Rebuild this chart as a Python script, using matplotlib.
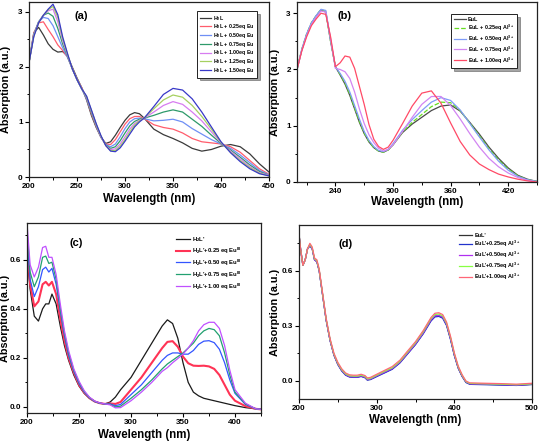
import matplotlib
matplotlib.use("Agg")
import matplotlib.pyplot as plt
from matplotlib.ticker import MultipleLocator

plt.rcParams["font.family"] = ["Liberation Sans", "DejaVu Sans"]
plt.rcParams["font.weight"] = "bold"
plt.rcParams["mathtext.fontset"] = "custom"
plt.rcParams["mathtext.bf"] = "Liberation Sans:bold"
plt.rcParams["mathtext.rm"] = "Liberation Sans:bold"
plt.rcParams["mathtext.default"] = "bf"

W, H = 539, 443

# ---------------- panel (a): H2L + Eu ----------------
wl_a = [200, 205, 210, 215, 220, 225, 230, 235, 240, 245, 250, 255, 260, 265, 270,
        275, 280, 285, 290, 295, 300, 305, 310, 315, 320, 330, 340, 350, 360, 370,
        380, 390, 400, 410, 420, 430, 440, 450]
a_0 = [2.08, 2.62, 2.72, 2.58, 2.42, 2.32, 2.27, 2.28, 2.20, 2.00, 1.80, 1.62, 1.40, 1.12, 0.90,
       0.72, 0.61, 0.64, 0.76, 0.90, 1.03, 1.13, 1.17, 1.15, 1.07, 0.87, 0.77, 0.70, 0.62, 0.52,
       0.47, 0.50, 0.56, 0.59, 0.55, 0.42, 0.24, 0.09]
a_25 = [2.08, 2.62, 2.80, 2.82, 2.68, 2.55, 2.40, 2.30, 2.18, 1.98, 1.78, 1.62, 1.42, 1.15, 0.92,
        0.72, 0.60, 0.59, 0.68, 0.82, 0.96, 1.06, 1.10, 1.10, 1.06, 0.95, 0.90, 0.87, 0.80, 0.70,
        0.64, 0.62, 0.60, 0.55, 0.45, 0.30, 0.15, 0.05]
a_50 = [2.08, 2.60, 2.82, 2.90, 2.88, 2.75, 2.55, 2.35, 2.18, 1.97, 1.77, 1.60, 1.42, 1.17, 0.93,
        0.72, 0.59, 0.55, 0.60, 0.73, 0.88, 1.00, 1.06, 1.07, 1.06, 1.02, 1.03, 1.05, 1.00, 0.88,
        0.78, 0.68, 0.60, 0.52, 0.40, 0.26, 0.12, 0.04]
a_75 = [2.08, 2.58, 2.82, 2.94, 2.98, 2.92, 2.70, 2.42, 2.20, 1.97, 1.77, 1.60, 1.44, 1.18, 0.94,
        0.73, 0.58, 0.52, 0.55, 0.66, 0.80, 0.93, 1.01, 1.05, 1.07, 1.12, 1.18, 1.22, 1.18, 1.05,
        0.92, 0.76, 0.61, 0.49, 0.36, 0.22, 0.10, 0.03]
a_100 = [2.08, 2.57, 2.81, 2.94, 3.02, 3.05, 2.82, 2.48, 2.22, 1.97, 1.77, 1.60, 1.45, 1.20, 0.95,
         0.73, 0.57, 0.50, 0.51, 0.60, 0.73, 0.87, 0.97, 1.03, 1.07, 1.18, 1.30, 1.37, 1.32, 1.18,
         1.02, 0.82, 0.62, 0.47, 0.33, 0.19, 0.08, 0.03]
a_125 = [2.08, 2.56, 2.80, 2.94, 3.04, 3.10, 2.90, 2.52, 2.24, 1.97, 1.77, 1.60, 1.46, 1.21, 0.96,
         0.74, 0.57, 0.48, 0.48, 0.56, 0.68, 0.82, 0.94, 1.02, 1.07, 1.24, 1.40, 1.49, 1.45, 1.30,
         1.10, 0.87, 0.63, 0.45, 0.30, 0.17, 0.07, 0.02]
a_150 = [2.08, 2.55, 2.80, 2.94, 3.05, 3.14, 2.95, 2.55, 2.25, 1.97, 1.77, 1.60, 1.47, 1.22, 0.97,
         0.75, 0.57, 0.47, 0.46, 0.53, 0.65, 0.78, 0.91, 1.00, 1.07, 1.28, 1.50, 1.61, 1.58, 1.42,
         1.18, 0.91, 0.64, 0.44, 0.28, 0.15, 0.06, 0.02]
labels_a = ["H$_2$L", "H$_2$L + 0.25eq Eu", "H$_2$L + 0.50eq Eu", "H$_2$L + 0.75eq Eu",
            "H$_2$L + 1.00eq Eu", "H$_2$L + 1.25eq Eu", "H$_2$L + 1.50eq Eu"]
colors_a = ["#3a3a3a", "#ff5c6c", "#6f8ff5", "#2e9a6a", "#d77cf0", "#a6d060", "#3838c8"]

# ---------------- panel (b): EuL + Al3+ ----------------
wl_b = [200, 205, 210, 215, 220, 225, 230, 235, 240, 245, 250, 255, 260, 265, 270, 275, 280,
        285, 290, 295, 300, 310, 320, 330, 340, 350, 360, 370, 380, 390, 400, 410, 420, 430,
        440, 450]
b_0 = [2.00, 2.35, 2.62, 2.82, 2.95, 3.06, 3.02, 2.50, 2.05, 1.90, 1.74, 1.54, 1.30, 1.06, 0.86,
       0.71, 0.61, 0.55, 0.53, 0.57, 0.66, 0.88, 1.03, 1.15, 1.27, 1.35, 1.37, 1.26, 1.06, 0.85,
       0.62, 0.42, 0.25, 0.12, 0.05, 0.01]
b_25 = [2.00, 2.36, 2.63, 2.83, 2.96, 3.07, 3.03, 2.50, 2.05, 1.91, 1.76, 1.56, 1.32, 1.08, 0.87,
        0.72, 0.61, 0.55, 0.53, 0.57, 0.66, 0.89, 1.06, 1.20, 1.34, 1.42, 1.41, 1.27, 1.05, 0.82,
        0.59, 0.39, 0.23, 0.11, 0.04, 0.01]
b_50 = [2.00, 2.36, 2.63, 2.83, 2.96, 3.07, 3.05, 2.52, 2.05, 1.93, 1.79, 1.60, 1.36, 1.12, 0.90,
        0.74, 0.63, 0.56, 0.54, 0.58, 0.68, 0.92, 1.11, 1.27, 1.42, 1.50, 1.45, 1.28, 1.04, 0.80,
        0.57, 0.37, 0.21, 0.10, 0.04, 0.01]
b_75 = [2.00, 2.34, 2.60, 2.80, 2.93, 3.04, 3.02, 2.55, 2.02, 2.00, 1.96, 1.84, 1.60, 1.30, 1.04,
        0.84, 0.70, 0.60, 0.55, 0.58, 0.66, 0.90, 1.15, 1.38, 1.52, 1.52, 1.36, 1.12, 0.86, 0.62,
        0.42, 0.27, 0.16, 0.08, 0.03, 0.00]
b_100 = [2.00, 2.33, 2.58, 2.78, 2.90, 3.00, 2.98, 2.58, 2.05, 2.12, 2.24, 2.22, 2.02, 1.70, 1.38,
         1.02, 0.76, 0.63, 0.58, 0.62, 0.74, 1.04, 1.35, 1.58, 1.62, 1.40, 1.05, 0.72, 0.48, 0.32,
         0.22, 0.14, 0.09, 0.05, 0.02, 0.00]
labels_b = ["EuL", "EuL + 0.25eq Al$^{3+}$", "EuL + 0.50eq Al$^{3+}$",
            "EuL + 0.75eq Al$^{3+}$", "EuL + 1.00eq Al$^{3+}$"]
colors_b = ["#4a4a4a", "#66dd22", "#7f9cf8", "#d285f2", "#ff4a66"]

# ---------------- panel (c): H2L' + Eu(III) ----------------
wl_c = [200, 203, 207, 211, 215, 218, 221, 224, 228, 232, 236, 240, 245, 250, 255, 260, 265,
        270, 275, 280, 285, 290, 300, 310, 320, 330, 335, 340, 345, 350, 355, 360, 365, 370,
        375, 380, 385, 390, 395, 400, 410, 420, 425]
c_0 = [0.62, 0.48, 0.37, 0.35, 0.40, 0.42, 0.42, 0.46, 0.42, 0.33, 0.25, 0.19, 0.13, 0.085,
       0.055, 0.035, 0.022, 0.015, 0.012, 0.020, 0.040, 0.070, 0.120, 0.190, 0.260, 0.330,
       0.355, 0.340, 0.280, 0.180, 0.100, 0.060, 0.045, 0.035, 0.030, 0.025, 0.020, 0.015,
       0.010, 0.005, -0.003, -0.008, -0.010]
c_25 = [0.66, 0.50, 0.41, 0.43, 0.50, 0.51, 0.495, 0.51, 0.46, 0.36, 0.27, 0.20, 0.14, 0.090,
        0.058, 0.036, 0.022, 0.015, 0.012, 0.014, 0.012, 0.020, 0.070, 0.120, 0.180, 0.240,
        0.265, 0.268, 0.245, 0.205, 0.178, 0.168, 0.167, 0.168, 0.165, 0.155, 0.130, 0.090,
        0.050, 0.025, 0.003, -0.008, -0.010]
c_50 = [0.68, 0.52, 0.45, 0.49, 0.56, 0.57, 0.55, 0.565, 0.50, 0.39, 0.29, 0.21, 0.145, 0.095,
        0.060, 0.037, 0.022, 0.015, 0.012, 0.012, 0.005, 0.010, 0.050, 0.090, 0.140, 0.190,
        0.210, 0.220, 0.220, 0.215, 0.215, 0.230, 0.255, 0.268, 0.270, 0.262, 0.235, 0.180,
        0.110, 0.055, 0.010, -0.008, -0.010]
c_75 = [0.72, 0.55, 0.49, 0.53, 0.61, 0.615, 0.585, 0.59, 0.52, 0.40, 0.30, 0.22, 0.15, 0.100,
        0.063, 0.038, 0.023, 0.015, 0.012, 0.010, 0.000, 0.003, 0.035, 0.070, 0.110, 0.155,
        0.175, 0.190, 0.205, 0.220, 0.240, 0.260, 0.290, 0.310, 0.320, 0.315, 0.290, 0.220,
        0.130, 0.060, 0.012, -0.008, -0.010]
c_100 = [0.75, 0.58, 0.53, 0.57, 0.65, 0.655, 0.61, 0.61, 0.54, 0.42, 0.31, 0.23, 0.155, 0.105,
         0.066, 0.040, 0.024, 0.016, 0.012, 0.008, -0.004, -0.003, 0.025, 0.060, 0.100, 0.145,
         0.160, 0.180, 0.197, 0.215, 0.240, 0.270, 0.310, 0.335, 0.345, 0.345, 0.320, 0.250,
         0.150, 0.070, 0.015, -0.008, -0.010]
labels_c = ["H$_2$L'", "H$_2$L'+0.25 eq Eu$^{III}$", "H$_2$L'+0.50 eq Eu$^{III}$",
            "H$_2$L'+0.75 eq Eu$^{III}$", "H$_2$L'+1.00 eq Eu$^{III}$"]
colors_c = ["#1a1a1a", "#ff3355", "#3355ff", "#22a070", "#c050ff"]

# ---------------- panel (d): EuL' + Al3+ ----------------
wl_d = [200, 202, 205, 208, 211, 214, 217, 220, 223, 226, 230, 235, 240, 245, 250, 255, 260,
        265, 270, 275, 280, 285, 288, 292, 300, 310, 320, 330, 340, 350, 360, 370, 375, 380,
        385, 390, 395, 400, 405, 410, 415, 420, 440, 460, 480, 500]
d_0 = [0.80, 0.72, 0.63, 0.66, 0.72, 0.74, 0.72, 0.66, 0.65, 0.60, 0.48, 0.33, 0.22, 0.14,
       0.090, 0.055, 0.032, 0.022, 0.020, 0.020, 0.025, 0.018, 0.005, 0.008, 0.025, 0.045,
       0.065, 0.100, 0.150, 0.200, 0.260, 0.330, 0.352, 0.355, 0.345, 0.305, 0.230, 0.140,
       0.070, 0.025, -0.008, -0.018, -0.020, -0.022, -0.025, -0.020]
d_25 = [0.80, 0.72, 0.63, 0.66, 0.72, 0.735, 0.72, 0.66, 0.65, 0.60, 0.48, 0.33, 0.22, 0.14,
        0.088, 0.053, 0.030, 0.020, 0.018, 0.018, 0.023, 0.016, 0.003, 0.006, 0.022, 0.042,
        0.062, 0.097, 0.147, 0.197, 0.256, 0.326, 0.348, 0.351, 0.341, 0.301, 0.226, 0.137,
        0.068, 0.023, -0.010, -0.020, -0.022, -0.024, -0.026, -0.021]
d_50 = [0.80, 0.72, 0.63, 0.66, 0.72, 0.74, 0.72, 0.66, 0.65, 0.60, 0.48, 0.33, 0.22, 0.14,
        0.091, 0.056, 0.033, 0.023, 0.021, 0.021, 0.026, 0.019, 0.006, 0.009, 0.026, 0.046,
        0.066, 0.101, 0.151, 0.201, 0.261, 0.332, 0.354, 0.357, 0.347, 0.307, 0.232, 0.142,
        0.071, 0.026, -0.007, -0.017, -0.019, -0.021, -0.024, -0.019]
d_75 = [0.80, 0.72, 0.63, 0.66, 0.72, 0.745, 0.725, 0.665, 0.655, 0.605, 0.485, 0.335, 0.225,
        0.145, 0.095, 0.060, 0.037, 0.027, 0.025, 0.025, 0.030, 0.023, 0.010, 0.013, 0.030,
        0.051, 0.071, 0.106, 0.157, 0.207, 0.268, 0.339, 0.361, 0.364, 0.354, 0.313, 0.238,
        0.147, 0.075, 0.029, -0.005, -0.015, -0.017, -0.019, -0.022, -0.017]
d_100 = [0.80, 0.72, 0.63, 0.66, 0.72, 0.75, 0.73, 0.67, 0.66, 0.61, 0.49, 0.34, 0.23, 0.15,
         0.100, 0.065, 0.042, 0.032, 0.030, 0.030, 0.035, 0.028, 0.015, 0.018, 0.035, 0.056,
         0.077, 0.112, 0.163, 0.213, 0.274, 0.345, 0.368, 0.371, 0.361, 0.320, 0.244, 0.152,
         0.080, 0.033, -0.002, -0.012, -0.014, -0.016, -0.019, -0.014]
labels_d = ["EuL'", "EuL'+0.25eq Al$^{3+}$", "EuL'+0.50eq Al$^{3+}$",
            "EuL'+0.75eq Al$^{3+}$", "EuL'+1.00eq Al$^{3+}$"]
colors_d = ["#333333", "#2233cc", "#b030f0", "#88ff44", "#ff6677"]


def px_axes(fig, box):
    left, top, right, bottom = box
    return fig.add_axes([left / W, 1 - bottom / H, (right - left) / W, (bottom - top) / H])


def style_axes(ax, box, xmajor, xminor, ymajor, yminor, ylab_x, xlab_y):
    left, top, right, bottom = box
    for sp in ax.spines.values():
        sp.set_linewidth(0.9)
        sp.set_color("#222222")
    ax.xaxis.set_major_locator(MultipleLocator(xmajor))
    ax.xaxis.set_minor_locator(MultipleLocator(xminor))
    ax.yaxis.set_major_locator(MultipleLocator(ymajor))
    ax.yaxis.set_minor_locator(MultipleLocator(yminor))
    ax.tick_params(which="major", direction="out", length=3, width=0.8,
                   labelsize=5.8, pad=1.5, top=False, right=False)
    ax.tick_params(which="minor", direction="out", length=1.8, width=0.7,
                   top=False, right=False)
    for lab in ax.get_xticklabels() + ax.get_yticklabels():
        lab.set_fontweight("bold")
    ax.set_xlabel("Wavelength (nm)", fontsize=8.3, fontweight="bold")
    ax.set_ylabel("Absorption (a.u.)", fontsize=7.8, fontweight="bold")
    # place axis titles at the pixel positions seen in the figure
    ax.yaxis.set_label_coords((ylab_x - left) / (right - left), 0.5)
    ax.xaxis.set_label_coords(0.5, (bottom - xlab_y) / (bottom - top))
    ax.yaxis.label.set_va("center")
    ax.xaxis.label.set_va("center")


def add_legend(fig, ax, left, top, frame, fontsize, spacing, shadow, hlen=2.4):
    leg = ax.legend(loc="upper left", bbox_to_anchor=(left / W, 1 - top / H),
                    bbox_transform=fig.transFigure, fontsize=fontsize, frameon=frame,
                    fancybox=False, shadow=shadow, labelspacing=spacing,
                    handlelength=hlen, handletextpad=0.4, borderpad=0.5,
                    borderaxespad=0)
    if frame:
        leg.get_frame().set_edgecolor("#222222")
        leg.get_frame().set_linewidth(0.7)
    for t in leg.get_texts():
        t.set_fontweight("bold")
    return leg


fig = plt.figure(figsize=(W / 100, H / 100), dpi=100)

# (a)
box_a = (29, 2, 269, 177)
ax_a = px_axes(fig, box_a)
for ys, lab, col in zip([a_0, a_25, a_50, a_75, a_100, a_125, a_150], labels_a, colors_a):
    ax_a.plot(wl_a, ys, color=col, lw=0.9, label=lab)
ax_a.set_xlim(200, 450)
ax_a.set_ylim(0, 3.18)
style_axes(ax_a, box_a, 50, 25, 1, 0.5, 6, 199)
ax_a.text(0.19, 0.95, "(a)", transform=ax_a.transAxes, fontsize=8, fontweight="bold",
          va="top")
add_legend(fig, ax_a, 197, 11, True, 3.8, -0.05, True, hlen=2.2)

# (b)
box_b = (297, 2, 537, 182)
ax_b = px_axes(fig, box_b)
for i, (ys, lab, col) in enumerate(zip([b_0, b_25, b_50, b_75, b_100], labels_b, colors_b)):
    ax_b.plot(wl_b, ys, color=col, lw=0.9, label=lab, ls="--" if i == 1 else "-")
ax_b.set_xlim(200, 450)
ax_b.set_ylim(0, 3.2)
style_axes(ax_b, box_b, 60, 30, 1, 0.5, 275, 202)
ax_b.text(0.17, 0.95, "(b)", transform=ax_b.transAxes, fontsize=8, fontweight="bold",
          va="top")
add_legend(fig, ax_b, 451, 14, True, 3.9, 0.12, True, hlen=2.2)

# (c)
box_c = (27, 223, 261, 413)
ax_c = px_axes(fig, box_c)
for i, (ys, lab, col) in enumerate(zip([c_0, c_25, c_50, c_75, c_100], labels_c, colors_c)):
    ax_c.plot(wl_c, ys, color=col, lw=1.5 if i == 1 else 0.9, label=lab)
ax_c.set_xlim(200, 425)
ax_c.set_ylim(-0.025, 0.75)
style_axes(ax_c, box_c, 50, 25, 0.2, 0.1, 5, 435)
ax_c.text(0.18, 0.92, "(c)", transform=ax_c.transAxes, fontsize=8, fontweight="bold",
          va="top")
add_legend(fig, ax_c, 173, 232, False, 4.2, 0.28, False)

# (d)
box_d = (299, 225, 532, 399)
ax_d = px_axes(fig, box_d)
for ys, lab, col in zip([d_0, d_25, d_50, d_75, d_100], labels_d, colors_d):
    ax_d.plot(wl_d, ys, color=col, lw=0.9, label=lab)
ax_d.set_xlim(200, 500)
ax_d.set_ylim(-0.1, 0.85)
style_axes(ax_d, box_d, 100, 50, 0.3, 0.15, 275, 420)
ax_d.text(0.17, 0.92, "(d)", transform=ax_d.transAxes, fontsize=8, fontweight="bold",
          va="top")
add_legend(fig, ax_d, 456, 230, False, 4.0, 0.15, False)

fig.savefig("out.png", dpi=100)
